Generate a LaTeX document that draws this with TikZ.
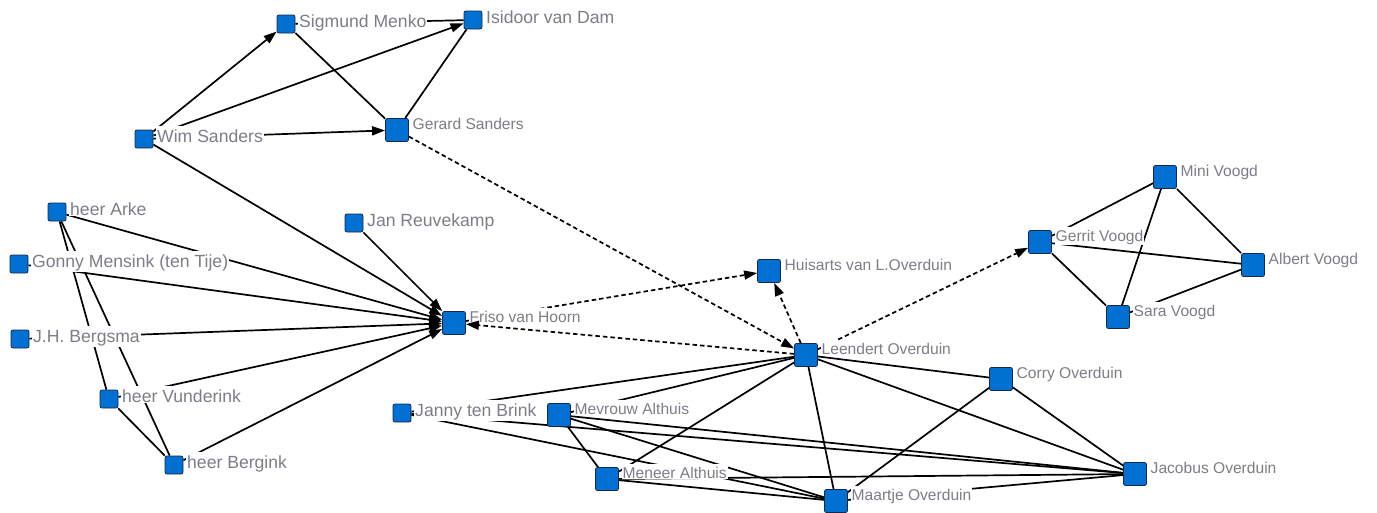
\documentclass[tikz,border=0pt]{standalone}
\usepackage{fontspec}
\setmainfont{Liberation Sans}
\usetikzlibrary{arrows.meta}
\pgfdeclarelayer{bg}
\pgfdeclarelayer{paper}
\pgfsetlayers{paper,bg,main}
\definecolor{nodeblue}{RGB}{0,112,210}
\definecolor{nodeedge}{RGB}{25,40,70}
\definecolor{labelgray}{RGB}{125,125,138}
\newcommand\SNode[4]{\node[sn] (#1) at (#2,#3) {}; \node[biglab] (#1l) at (#2+12,#3+3) {#4};}
\newcommand\BNode[4]{\node[bn] (#1) at (#2,#3) {}; \node[smalllab] (#1l) at (#2+14.5,#3-1) {#4};}
\begin{document}
\begin{tikzpicture}[x=1pt,y=-1pt,
  sn/.style={rectangle,rounded corners=2pt,fill=nodeblue,draw=nodeedge,line width=0.8pt,minimum size=18pt,inner sep=0pt},
  bn/.style={sn,minimum size=23pt},
  biglab/.style={fill=white,text=labelgray,inner sep=1pt,font=\fontsize{17.6}{20}\selectfont,text height=15pt,anchor=base west},
  smalllab/.style={fill=white,text=labelgray,inner sep=1pt,font=\fontsize{15.6}{18}\selectfont,text height=13.5pt,anchor=base west},
  tie/.style={line width=1.7pt,black},
  dtie/.style={tie,dash pattern=on 4.5pt off 3pt},
  arr/.style={-{Triangle[length=13pt,width=9pt]}},
]
\useasboundingbox (0,0) rectangle (1377,512);
\begin{pgfonlayer}{paper}
\fill[white] (0,0) rectangle (1377,512);
\end{pgfonlayer}
\SNode{sig}{286}{24}{Sigmund Menko}
\SNode{isi}{473}{20}{Isidoor van Dam}
\SNode{wim}{144}{139}{Wim Sanders}
\BNode{ger}{397}{130}{Gerard Sanders}
\SNode{ark}{57}{212}{heer Arke}
\SNode{gon}{19}{264}{Gonny Mensink (ten Tije)}
\SNode{jhb}{20}{339}{J.H. Bergsma}
\SNode{vun}{109}{399}{heer Vunderink}
\SNode{ber}{174}{465}{heer Bergink}
\SNode{jan}{354}{223}{Jan Reuvekamp}
\BNode{fri}{454}{323}{Friso van Hoorn}
\BNode{hui}{769}{271}{Huisarts van L.Overduin}
\BNode{leo}{806}{355}{Leendert Overduin}
\BNode{gev}{1040}{242}{Gerrit Voogd}
\BNode{miv}{1165}{177}{Mini Voogd}
\BNode{alv}{1253}{265}{Albert Voogd}
\BNode{sav}{1118}{317}{Sara Voogd}
\BNode{cor}{1001}{379}{Corry Overduin}
\BNode{jac}{1135}{474}{Jacobus Overduin}
\BNode{maa}{836}{501}{Maartje Overduin}
\BNode{men}{607}{479}{Meneer Althuis}
\BNode{mev}{559}{415}{Mevrouw Althuis}
\SNode{jbr}{402}{413}{Janny ten Brink}
\begin{pgfonlayer}{bg}
% directed solid ties
\draw[tie,arr] (wim) -- (sig);
\draw[tie,arr] (wim) -- (isi);
\draw[tie,arr] (wim) -- (ger);
\draw[tie,arr] (wim) -- (fri);
\draw[tie,arr] (jan) -- (fri);
\draw[tie,arr] (ark) -- (fri);
\draw[tie,arr] (gon) -- (fri);
\draw[tie,arr] (jhb) -- (fri);
\draw[tie,arr] (vun) -- (fri);
\draw[tie,arr] (ber) -- (fri);
% undirected solid ties
\draw[tie] (sig) -- (isi);
\draw[tie] (sig) -- (ger);
\draw[tie] (isi) -- (ger);
\draw[tie] (ark) -- (vun);
\draw[tie] (ark) -- (ber);
\draw[tie] (vun) -- (ber);
\draw[tie] (gev) -- (miv);
\draw[tie] (gev) -- (alv);
\draw[tie] (gev) -- (sav);
\draw[tie] (miv) -- (alv);
\draw[tie] (miv) -- (sav);
\draw[tie] (sav) -- (alv);
\draw[tie] (leo) -- (cor);
\draw[tie] (leo) -- (jac);
\draw[tie] (leo) -- (maa);
\draw[tie] (leo) -- (men);
\draw[tie] (leo) -- (mev);
\draw[tie] (leo) -- (jbr);
\draw[tie] (cor) -- (jac);
\draw[tie] (cor) -- (maa);
\draw[tie] (jac) -- (maa);
\draw[tie] (men) -- (jac);
\draw[tie] (men) -- (maa);
\draw[tie] (mev) -- (men);
\draw[tie] (mev) -- (maa);
\draw[tie] (mev) -- (jac);
\draw[tie] (jbr) -- (jac);
\draw[tie] (jbr) -- (maa);
% dashed directed ties
\draw[dtie,arr] (ger) -- (leo);
\draw[dtie,arr] (fri) -- (hui);
\draw[dtie,arr] (leo) -- (hui);
\draw[dtie,arr] (leo) -- (gev);
\end{pgfonlayer}
\draw[dtie,arr] (leo) -- (fri);
\end{tikzpicture}
\end{document}
